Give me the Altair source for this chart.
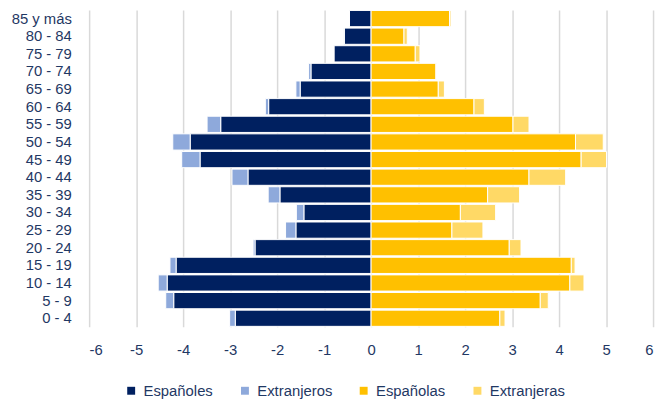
import altair as alt
import pandas as pd

ages = ["85 y más", "80 - 84", "75 - 79", "70 - 74", "65 - 69", "60 - 64", "55 - 59",
        "50 - 54", "45 - 49", "40 - 44", "35 - 39", "30 - 34", "25 - 29", "20 - 24",
        "15 - 19", "10 - 14", "5 - 9", "0 - 4"]
espanoles = [0.46, 0.57, 0.79, 1.28, 1.51, 2.18, 3.20, 3.85, 3.64, 2.62, 1.94, 1.43, 1.60, 2.47, 4.15, 4.34, 4.20, 2.89]
extranjeros = [0.01, 0.01, 0.01, 0.05, 0.09, 0.07, 0.29, 0.37, 0.39, 0.34, 0.25, 0.16, 0.22, 0.04, 0.13, 0.19, 0.17, 0.12]
espanolas = [1.67, 0.70, 0.94, 1.38, 1.43, 2.19, 3.02, 4.35, 4.47, 3.36, 2.48, 1.90, 1.72, 2.94, 4.26, 4.23, 3.60, 2.74]
extranjeras = [0.03, 0.07, 0.10, 0.01, 0.13, 0.22, 0.34, 0.59, 0.54, 0.78, 0.68, 0.75, 0.66, 0.25, 0.08, 0.30, 0.17, 0.11]

series = ["Españoles", "Extranjeros", "Españolas", "Extranjeras"]
colors = ["#002060", "#8EA9DB", "#FFC000", "#FFD966"]
signs = [-1, -1, 1, 1]
values = [espanoles, extranjeros, espanolas, extranjeras]

rows = []
for si, (name, sign, vals) in enumerate(zip(series, signs, values)):
    for a, v in zip(ages, vals):
        rows.append({"edad": a, "serie": name, "valor": sign * v, "orden": si})
df = pd.DataFrame(rows)

TXT = "#1F3864"
FONT = "Liberation Sans"
FS = 15

chart = alt.Chart(df).mark_bar(stroke="white", strokeWidth=1).encode(
    y=alt.Y("edad:N", sort=ages, title=None,
            scale=alt.Scale(paddingInner=0.08, paddingOuter=0.02),
            axis=alt.Axis(domain=False, ticks=False, grid=False, labelPadding=18,
                          labelFontSize=FS, labelColor=TXT, labelFont=FONT)),
    x=alt.X("valor:Q", stack="zero", title=None,
            scale=alt.Scale(domain=[-6, 6], nice=False),
            axis=alt.Axis(values=list(range(-6, 7)), labelExpr="'' + datum.value",
                          domain=False, ticks=False, grid=True, gridColor="#D9D9D9",
                          gridWidth=1.5, labelPadding=16, labelFontSize=FS,
                          labelColor=TXT, labelFont=FONT)),
    color=alt.Color("serie:N", scale=alt.Scale(domain=series, range=colors),
                    legend=alt.Legend(title=None, orient="none", direction="horizontal",
                                      legendX=35, legendY=377, symbolType="square",
                                      symbolSize=64, symbolStrokeWidth=0,
                                      labelFontSize=FS, labelColor=TXT, labelFont=FONT,
                                      columnPadding=24, labelOffset=5)),
    order=alt.Order("orden:Q"),
).properties(
    width=570, height=320,
    autosize=alt.AutoSizeParams(type="none"),
    padding={"left": 82, "top": 0, "right": 5, "bottom": 76},
).configure_view(stroke=None)

chart.save("out.html", embed_options={"renderer": "svg", "actions": False})
